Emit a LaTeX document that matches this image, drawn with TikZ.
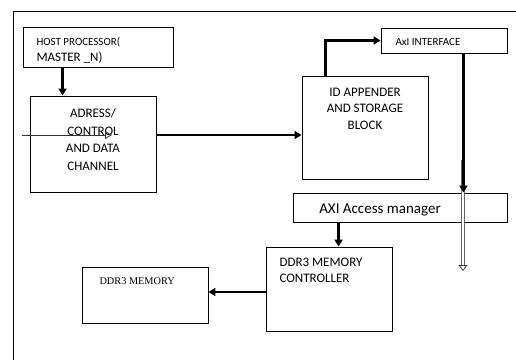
\documentclass[tikz,border=0pt]{standalone}
\usepackage{fontspec}
\setmainfont{Carlito}
\newfontfamily\timesfont{Liberation Serif}
\usepackage{tikz}
\usetikzlibrary{positioning,shapes,arrows.meta,calc}

\tikzset{
    block/.style={draw, rectangle, line width=0.9pt, inner sep=0pt},
    flow/.style={line width=2.2pt, -{Triangle[length=7pt,width=8pt]}},
}

\begin{document}
\begin{tikzpicture}[x=1pt, y=-1pt]
    \useasboundingbox (0,0) rectangle (516,360);
    % outer frame
    \draw[line width=0.9pt] (13,360) -- (13,11) -- (516,11);

    % blocks
    \node[block, minimum width=150pt, minimum height=40pt] (host) at (98,47) {};
    \node[anchor=west, font=\fontsize{11}{12}\selectfont] (hostA) at (33,42) {HOST PROCESSOR(};
    \node[anchor=west, font=\fontsize{13}{14}\selectfont] (hostB) at (33,58) {MASTER \_N)};

    \node[block, minimum width=126pt, minimum height=96pt] (adr) at (93,144) {};
    \node[align=center, font=\fontsize{13}{17.7}\selectfont] (adrtxt) at (93,139.5) {ADRESS/\\CONTROL\\AND DATA\\CHANNEL};

    \node[block, minimum width=126pt, minimum height=103pt] (id) at (365,127.5) {};
    \node[align=center, font=\fontsize{13}{16.5}\selectfont] (idtxt) at (365,108.5) {ID APPENDER\\AND STORAGE\\BLOCK};

    \node[block, minimum width=126pt, minimum height=25pt] (axi) at (444,40.5) {};
    \node[anchor=west, font=\fontsize{11}{12}\selectfont] (axitxt) at (392,42) {AxI INTERFACE};

    \node[block, minimum width=214pt, minimum height=29pt] (mgr) at (400,207.5) {};
    \node[font=\fontsize{15}{18}\selectfont] (mgrtxt) at (380,210) {AXI Access manager};

    \node[block, minimum width=126pt, minimum height=84pt] (ctrl) at (329,289) {};
    \node[anchor=west, align=left, font=\fontsize{13}{16}\selectfont] (ctrltxt) at (276,270) {DDR3 MEMORY\\CONTROLLER};

    \node[block, minimum width=126pt, minimum height=56pt] (mem) at (145,295) {};
    \node[anchor=west, font=\timesfont\fontsize{10.3}{12}\selectfont] (memtxt) at (96,281) {DDR3 MEMORY};

    % free ends
    \coordinate (inA) at (22,135);
    \coordinate (inB) at (112,135);
    \coordinate (dblA) at (463,160);
    \coordinate (dblB) at (463,265);

    % connectors
    \draw[line width=3.4pt, black!60] (dblA) -- (dblB);
    \draw[line width=1.4pt, white] (dblA) -- (dblB);
    \draw[line width=0.8pt, black!75, -{Triangle[open,length=6pt,width=9pt]}] (dblB) -- ++(0,6);
    \draw[flow] ([xshift=40pt]host.south west) -- ([xshift=40pt]host.south west |- adr.north);
    \draw[line width=0.9pt, black!80, -{Triangle[open,length=7pt,width=8pt,line width=0.8pt]}] (inA) -- (inB);
    \draw[flow] (adr.east |- inA) -- (id.west |- inA);
    \draw[flow] ([xshift=24pt]id.north west) |- (axi.west);
    \draw[flow] ([xshift=-44pt]axi.south east) -- ([xshift=-44pt]axi.south east |- mgr.north);
    \draw[flow] ([xshift=46pt]mgr.south west) -- ([xshift=46pt]mgr.south west |- ctrl.north);
    \draw[flow] ([yshift=-3pt]ctrl.west) -- ([yshift=-3pt]ctrl.west -| mem.east);
\end{tikzpicture}
\end{document}
